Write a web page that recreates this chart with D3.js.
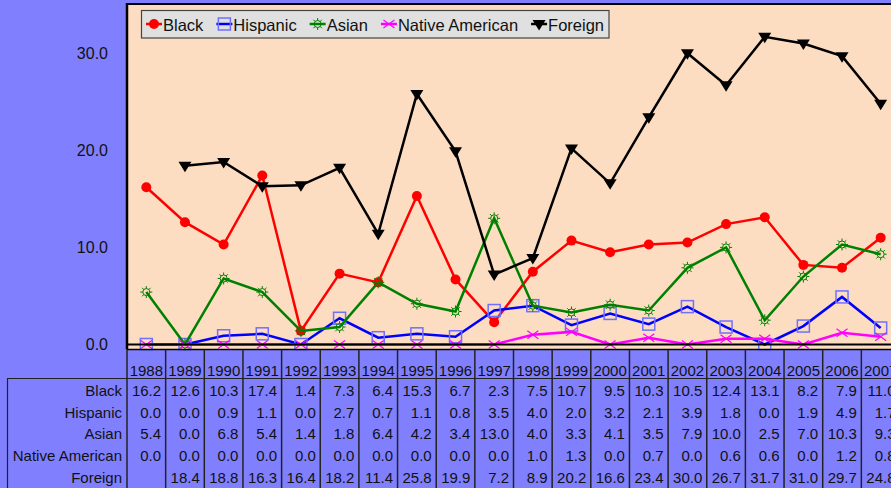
<!DOCTYPE html>
<html>
<head>
<meta charset="utf-8">
<script src="https://cdn.jsdelivr.net/npm/d3@7"></script>
<style>
  body { margin: 0; background: #8080ff; }
  svg { display: block; font-family: "Liberation Sans", Arial, sans-serif; }
</style>
</head>
<body>
<svg id="chart" width="891" height="488"></svg>
<script>
var years = ['1988','1989','1990','1991','1992','1993','1994','1995','1996','1997',
             '1998','1999','2000','2001','2002','2003','2004','2005','2006','2007'];
var black    = [16.2,12.6,10.3,17.4,1.4,7.3,6.4,15.3,6.7,2.3,7.5,10.7,9.5,10.3,10.5,12.4,13.1,8.2,7.9,11.0];
var hispanic = [0.0,0.0,0.9,1.1,0.0,2.7,0.7,1.1,0.8,3.5,4.0,2.0,3.2,2.1,3.9,1.8,0.0,1.9,4.9,1.7];
var asian    = [5.4,0.0,6.8,5.4,1.4,1.8,6.4,4.2,3.4,13.0,4.0,3.3,4.1,3.5,7.9,10.0,2.5,7.0,10.3,9.3];
var nativeAm = [0.0,0.0,0.0,0.0,0.0,0.0,0.0,0.0,0.0,0.0,1.0,1.3,0.0,0.7,0.0,0.6,0.6,0.0,1.2,0.8];
var foreign  = [null,18.4,18.8,16.3,16.4,18.2,11.4,25.8,19.9,7.2,8.9,20.2,16.6,23.4,30.0,26.7,31.7,31.0,29.7,24.8];
var yTicks = [0, 10, 20, 30];

var series = [
  {name: 'Black', values: black, color: '#ff0000', marker: 'circle'},
  {name: 'Hispanic', values: hispanic, color: '#0000ff', marker: 'square'},
  {name: 'Asian', values: asian, color: '#008000', marker: 'sun'},
  {name: 'Native American', values: nativeAm, color: '#ff00ff', marker: 'cross'},
  {name: 'Foreign', values: foreign, color: '#000000', marker: 'triangle'}
];

var svg = d3.select('#chart');
var plotLeft = 127, plotTop = 4, colW = 38.65;
var plotRight = plotLeft + colW * years.length;
var plotBottom = 349.5;

var x = d3.scaleBand().domain(years).range([plotLeft, plotRight]);
var y = d3.scaleLinear().domain([0, 35]).range([344.5, 4.7]);

// plot area
svg.append('rect')
  .attr('x', plotLeft).attr('y', plotTop)
  .attr('width', plotRight - plotLeft).attr('height', plotBottom - plotTop)
  .attr('fill', '#fcddc1');

// y axis labels
var yAxis = d3.axisLeft(y).tickValues(yTicks).tickSize(0).tickPadding(19)
  .tickFormat(d3.format('.1f'));
var gy = svg.append('g').attr('transform', `translate(${plotLeft},0)`).call(yAxis);
gy.select('.domain').remove();
gy.selectAll('text').attr('font-size', 16).attr('fill', '#111')
  .attr('font-family', '"Liberation Sans", Arial, sans-serif');

// markers
function drawMarker(g, type, color) {
  if (type === 'circle') {
    g.append('circle').attr('r', 5).attr('fill', color);
  } else if (type === 'square') {
    g.append('rect').attr('x', -6).attr('y', -6).attr('width', 12).attr('height', 12)
      .attr('fill', 'none').attr('stroke', '#7070ff').attr('stroke-width', 1.5);
  } else if (type === 'sun') {
    g.append('circle').attr('r', 3.5).attr('fill', 'none').attr('stroke', color).attr('stroke-width', 1);
    d3.range(8).forEach(function (k) {
      var a = k * Math.PI / 4;
      g.append('line')
        .attr('x1', Math.cos(a) * 3.5).attr('y1', Math.sin(a) * 3.5)
        .attr('x2', Math.cos(a) * 6).attr('y2', Math.sin(a) * 6)
        .attr('stroke', color).attr('stroke-width', 1);
    });
  } else if (type === 'cross') {
    g.append('path').attr('d', 'M-5.5,-4L5.5,4M-5.5,4L5.5,-4')
      .attr('stroke', color).attr('stroke-width', 1.2).attr('fill', 'none');
  } else if (type === 'triangle') {
    g.append('path').attr('d', 'M-6.5,-4L6.5,-4L0,6.5Z').attr('fill', color);
  }
}

var line = d3.line()
  .defined(function (d) { return d != null; })
  .x(function (d, i) { return x(years[i]) + x.bandwidth() / 2; })
  .y(function (d) { return y(d); });

series.forEach(function (s) {
  svg.append('path')
    .attr('d', line(s.values))
    .attr('fill', 'none')
    .attr('stroke', s.color)
    .attr('stroke-width', 2.5)
    .attr('stroke-linejoin', 'miter');
  s.values.forEach(function (v, i) {
    if (v == null) return;
    var g = svg.append('g')
      .attr('transform', `translate(${x(years[i]) + x.bandwidth() / 2},${y(v)})`);
    drawMarker(g, s.marker, s.color);
  });
});

// frame and zero axis
svg.append('line').attr('x1', plotLeft).attr('x2', plotRight)
  .attr('y1', y(0)).attr('y2', y(0)).attr('stroke', '#000').attr('stroke-width', 2);
svg.append('line').attr('x1', plotLeft).attr('x2', plotRight)
  .attr('y1', plotBottom).attr('y2', plotBottom).attr('stroke', '#000').attr('stroke-width', 1.5);
svg.append('line').attr('x1', plotLeft - 0.5).attr('x2', plotRight)
  .attr('y1', plotTop).attr('y2', plotTop).attr('stroke', '#000').attr('stroke-width', 2);
svg.append('line').attr('x1', plotLeft).attr('x2', plotLeft)
  .attr('y1', plotTop - 1).attr('y2', plotBottom).attr('stroke', '#000').attr('stroke-width', 2.5);

// legend
var legend = svg.append('g');
legend.append('rect').attr('x', 141.5).attr('y', 10.5).attr('width', 467.5).attr('height', 27.5)
  .attr('fill', '#e0e0e0').attr('stroke', '#444').attr('stroke-width', 1.2);
var lx = 146;
series.forEach(function (s) {
  var g = legend.append('g').attr('transform', `translate(${lx},24)`);
  g.append('line').attr('x1', 0).attr('x2', 16).attr('y1', 0).attr('y2', 0)
    .attr('stroke', s.color).attr('stroke-width', 2.5);
  drawMarker(g.append('g').attr('transform', 'translate(8,0)'), s.marker, s.color);
  var t = g.append('text').attr('x', 17).attr('y', 6.5).attr('font-size', 16.5).attr('fill', '#111')
    .text(s.name);
  lx += 17 + t.node().getComputedTextLength() + 13;
});

// data table
var table = svg.append('g');
var headerTop = plotBottom + 0.5, headerBottom = 378.5;
var rowBase = [396, 417.5, 439.3, 461.3, 483.3];

table.append('line').attr('x1', 7).attr('x2', plotRight)
  .attr('y1', headerBottom).attr('y2', headerBottom).attr('stroke', '#222').attr('stroke-width', 1.2);
table.append('line').attr('x1', 7.5).attr('x2', 7.5)
  .attr('y1', headerBottom).attr('y2', 488).attr('stroke', '#222').attr('stroke-width', 1.2);

d3.range(years.length + 1).forEach(function (i) {
  var xx = plotLeft + i * colW;
  table.append('line').attr('x1', xx).attr('x2', xx)
    .attr('y1', headerTop).attr('y2', 488).attr('stroke', '#222').attr('stroke-width', 1.5);
});

table.selectAll('text.year').data(years).enter().append('text')
  .attr('class', 'year')
  .attr('x', function (d) { return x(d) + x.bandwidth() / 2; })
  .attr('y', 375.7)
  .attr('text-anchor', 'middle')
  .attr('font-size', 15).attr('fill', '#111')
  .text(function (d) { return d; });

series.forEach(function (s, r) {
  table.append('text')
    .attr('x', 122).attr('y', rowBase[r])
    .attr('text-anchor', 'end').attr('font-size', 15).attr('fill', '#111')
    .text(s.name);
  table.selectAll(null).data(s.values).enter().append('text')
    .attr('x', function (d, i) { return x(years[i]) + x.bandwidth() - 4.5; })
    .attr('y', rowBase[r])
    .attr('text-anchor', 'end').attr('font-size', 15).attr('fill', '#111')
    .text(function (d) { return d == null ? '' : d3.format('.1f')(d); });
});
</script>
</body>
</html>
